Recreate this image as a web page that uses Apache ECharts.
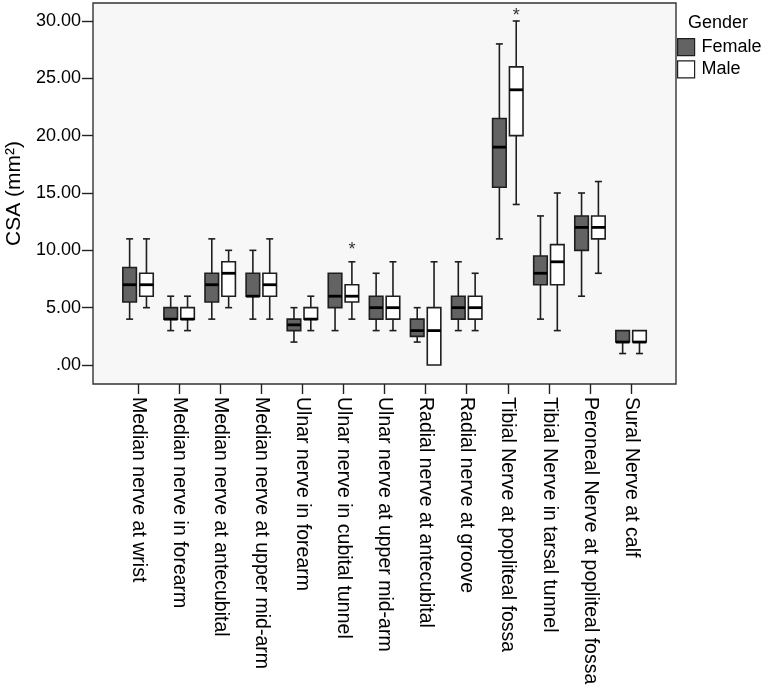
<!DOCTYPE html>
<html>
<head>
<meta charset="utf-8">
<script src="https://cdn.jsdelivr.net/npm/echarts@6/dist/echarts.min.js"></script>
<style>
    html, body { margin: 0; padding: 0; background: #fff; }
    #main { width: 765px; height: 689px; }
</style>
</head>
<body>
<div id="main"></div>
<script>
// nerve sites on the x axis
var categories = [
    'Median nerve at wrist',
    'Median nerve in forearm',
    'Median nerve at antecubital',
    'Median nerve at upper mid-arm',
    'Ulnar nerve in forearm',
    'Ulnar nerve in cubital tunnel',
    'Ulnar nerve at upper mid-arm',
    'Radial nerve at antecubital',
    'Radial nerve at groove',
    'Tibial Nerve at popliteal fossa',
    'Tibial Nerve in tarsal tunnel',
    'Peroneal Nerve at popliteal fossa',
    'Sural Nerve at calf'
];

// [min, Q1, median, Q3, max]
var femaleStats = [
    [4, 5.5, 7, 8.5, 11],
    [3, 4, 4, 5, 6],
    [4, 5.5, 7, 8, 11],
    [4, 6, 6, 8, 10],
    [2, 3, 3.5, 4, 5],
    [3, 5, 6, 8, 8],
    [3, 4, 5, 6, 8],
    [2, 2.5, 3, 4, 5],
    [3, 4, 5, 6, 9],
    [11, 15.5, 19, 21.5, 28],
    [4, 7, 8, 9.5, 13],
    [6, 10, 12, 13, 15],
    [1, 2, 2, 3, 3]
];
var maleStats = [
    [5, 6, 7, 8, 11],
    [3, 4, 4, 5, 6],
    [5, 6, 8, 9, 10],
    [4, 6, 7, 8, 11],
    [3, 4, 4, 5, 6],
    [4, 5.5, 6, 7, 9],
    [3, 4, 5, 6, 9],
    [0, 0, 3, 5, 9],
    [3, 4, 5, 6, 8],
    [14, 20, 24, 26, 30],
    [3, 7, 9, 10.5, 15],
    [8, 11, 12, 13, 16],
    [1, 2, 2, 3, 3]
];
// extreme values marked with *  [category index, value]
var maleOutliers = [[5, 10.3], [9, 30.7]];

var yTicks = [0, 5, 10, 15, 20, 25, 30];
// plot frame runs a bit past the first and last tick
var yMin = -1.657;
var yMax = 31.57;

var FONT = '"Liberation Sans", Arial, sans-serif';
var FEMALE_FILL = '#636363';
var MALE_FILL = '#ffffff';
var LINE = '#1e1e1e';

function toRows(stats) {
    var rows = [];
    for (var i = 0; i < stats.length; i++) {
        rows.push([i].concat(stats[i]));
    }
    return rows;
}

/**
 * draws one box with whiskers, shifted left or right inside the band
 */
function boxRenderer(offsetRatio, fill) {
    return function (params, api) {
        var cat = api.value(0);
        var bw = api.size([1, 0])[0];
        var cx = api.coord([cat, 0])[0] + bw * offsetRatio;
        var half = bw * 0.165;
        var cap = bw * 0.085;
        var yLo = api.coord([cat, api.value(1)])[1];
        var yQ1 = api.coord([cat, api.value(2)])[1];
        var yMed = api.coord([cat, api.value(3)])[1];
        var yQ3 = api.coord([cat, api.value(4)])[1];
        var yHi = api.coord([cat, api.value(5)])[1];
        var lineStyle = { stroke: LINE, lineWidth: 1.6 };
        var children = [];

        if (yHi < yQ3) {
            children.push({ type: 'line', shape: { x1: cx, y1: yQ3, x2: cx, y2: yHi }, style: lineStyle });
            children.push({ type: 'line', shape: { x1: cx - cap, y1: yHi, x2: cx + cap, y2: yHi }, style: lineStyle });
        }
        if (yLo > yQ1) {
            children.push({ type: 'line', shape: { x1: cx, y1: yQ1, x2: cx, y2: yLo }, style: lineStyle });
            children.push({ type: 'line', shape: { x1: cx - cap, y1: yLo, x2: cx + cap, y2: yLo }, style: lineStyle });
        }
        children.push({
            type: 'rect',
            shape: { x: cx - half, y: yQ3, width: half * 2, height: yQ1 - yQ3 },
            style: { fill: fill, stroke: LINE, lineWidth: 1.6 }
        });
        children.push({
            type: 'line',
            shape: { x1: cx - half, y1: yMed, x2: cx + half, y2: yMed },
            style: { stroke: '#000', lineWidth: 2.8 }
        });
        return { type: 'group', children: children };
    };
}

function starRenderer(offsetRatio) {
    return function (params, api) {
        var cat = api.value(0);
        var bw = api.size([1, 0])[0];
        var p = api.coord([cat, api.value(1)]);
        return {
            type: 'text',
            style: {
                x: p[0] + bw * offsetRatio,
                // the glyph sits high in its line box
                y: p[1] + 3,
                text: '*',
                fill: '#333',
                font: '18px ' + FONT,
                align: 'center',
                verticalAlign: 'middle'
            }
        };
    };
}

var chart = echarts.init(document.getElementById('main'));

var option = {
    animation: false,
    backgroundColor: '#fff',
    title: {
        text: 'Gender',
        left: 683,
        top: 9,
        textStyle: { fontFamily: FONT, fontSize: 18, fontWeight: 'normal', color: '#000' }
    },
    legend: {
        orient: 'vertical',
        left: 677,
        top: 38,
        itemWidth: 17,
        itemHeight: 17,
        itemGap: 4,
        padding: 0,
        textStyle: { fontFamily: FONT, fontSize: 18, color: '#000', padding: [0, 0, 0, 2] },
        data: [
            { name: 'Female', icon: 'rect', itemStyle: { color: FEMALE_FILL, borderColor: LINE, borderWidth: 1.2 } },
            { name: 'Male', icon: 'rect', itemStyle: { color: MALE_FILL, borderColor: LINE, borderWidth: 1.2 } }
        ]
    },
    grid: [
        // frame with grey background, carries the y axis
        {
            left: 93, top: 3, width: 583, height: 381,
            outerBoundsMode: 'none', containLabel: false,
            show: true, backgroundColor: '#f7f7f7', borderColor: '#333', borderWidth: 1.4
        },
        // data area, narrower so the category ticks sit where the original has them
        { left: 117.5, top: 3, width: 534.1, height: 381, outerBoundsMode: 'none', containLabel: false }
    ],
    xAxis: [
        { gridIndex: 0, type: 'value', show: false },
        {
            gridIndex: 1,
            type: 'category',
            data: categories,
            axisLine: { show: false, onZero: false },
            axisTick: { show: true, alignWithLabel: true, length: 10, lineStyle: { color: '#222', width: 1.4 } },
            axisLabel: {
                interval: 0,
                rotate: -90,
                margin: 13,
                color: '#000',
                fontFamily: FONT,
                fontSize: 19.5
            }
        }
    ],
    yAxis: [
        {
            gridIndex: 0,
            type: 'value',
            min: yMin,
            max: yMax,
            name: 'CSA (mm²)',
            nameLocation: 'middle',
            nameGap: 65,
            nameTextStyle: { fontFamily: FONT, fontSize: 21, color: '#000' },
            axisLine: { show: false, onZero: false },
            splitLine: { show: false },
            axisTick: { show: true, length: 11, customValues: yTicks, lineStyle: { color: '#222', width: 1.4 } },
            axisLabel: {
                margin: 12,
                customValues: yTicks,
                color: '#000',
                fontFamily: FONT,
                fontSize: 18,
                formatter: function (v) {
                    return v === 0 ? '.00' : v.toFixed(2);
                }
            }
        },
        { gridIndex: 1, type: 'value', min: yMin, max: yMax, show: false }
    ],
    series: [
        {
            name: 'Female',
            type: 'custom',
            xAxisIndex: 1,
            yAxisIndex: 1,
            itemStyle: { color: FEMALE_FILL, borderColor: LINE },
            encode: { x: 0, y: [1, 2, 3, 4, 5] },
            renderItem: boxRenderer(-0.205, FEMALE_FILL),
            data: toRows(femaleStats)
        },
        {
            name: 'Male',
            type: 'custom',
            xAxisIndex: 1,
            yAxisIndex: 1,
            itemStyle: { color: MALE_FILL, borderColor: LINE },
            encode: { x: 0, y: [1, 2, 3, 4, 5] },
            renderItem: boxRenderer(0.205, MALE_FILL),
            data: toRows(maleStats)
        },
        {
            name: 'Male outliers',
            type: 'custom',
            xAxisIndex: 1,
            yAxisIndex: 1,
            encode: { x: 0, y: 1 },
            renderItem: starRenderer(0.205),
            data: maleOutliers
        }
    ]
};

chart.setOption(option);
</script>
</body>
</html>
